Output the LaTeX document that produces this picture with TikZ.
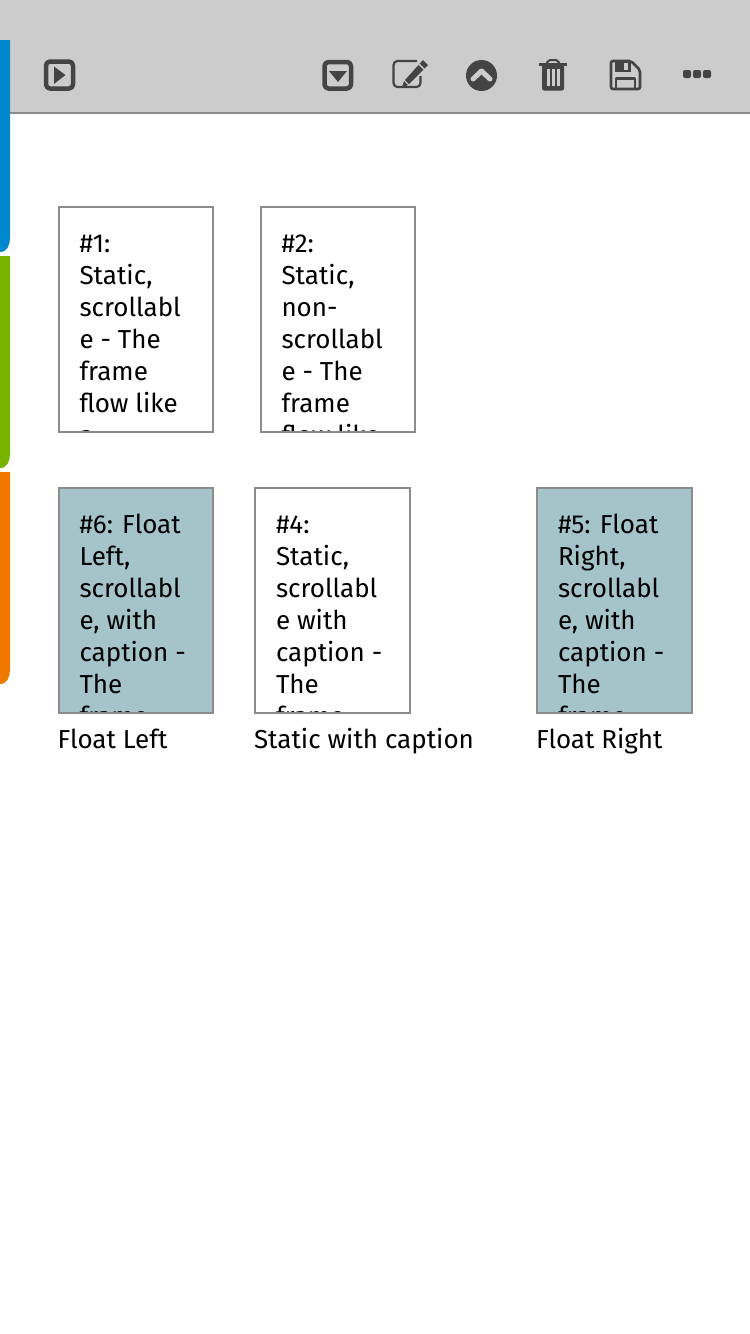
\documentclass[tikz,border=0pt]{standalone}
\usepackage{fontspec}
\setmainfont{Fira Sans}
\definecolor{barbg}{HTML}{CCCCCC}
\definecolor{barline}{HTML}{8C8C8C}
\definecolor{ico}{HTML}{444444}
\definecolor{tealbox}{HTML}{A4C4CA}
\definecolor{blueb}{HTML}{0088CC}
\definecolor{greenb}{HTML}{77B300}
\definecolor{orangeb}{HTML}{F07800}
\tikzset{
  framebox/.style={draw=barline,line width=2pt,outer sep=0pt,inner sep=0pt,anchor=north west},
  tline/.style={anchor=base west,inner sep=0pt,outer sep=0pt,font=\fontsize{26}{32}\selectfont,text=black},
  icoline/.style={draw=ico,line width=3pt,line join=round,fill=none},
}
\newcommand{\fbx}[8]{% name x y w h fill textx lines
  \fill[#6] (#2,#3) rectangle ++(#4,#5);
  \begin{scope}
    \clip (#2,#3) rectangle ++(#4,#5);
    \foreach \t [count=\i] in {#8} {
      \node[tline] (#1-\i) at (#7,{#3+45+(\i-1)*32}) {\t};
    }
  \end{scope}
  \node[framebox,minimum width=#4 pt,minimum height=#5 pt] (#1) at (#2,#3) {};
}
\newcommand{\sidetab}[2]{%
  \fill[#1] (0,#2) -- (10,#2) -- (10,#2+198) .. controls (10,#2+205) and (7,#2+212) .. (0,#2+212) -- cycle;
}
\begin{document}
\begin{tikzpicture}[x=1pt,y=-1pt]
\useasboundingbox (0,0) rectangle (750,1334);
\fill[white] (0,0) rectangle (750,1334);
% toolbar
\fill[barbg] (0,0) rectangle (750,113);
\draw[barline,line width=2pt] (0,113) -- (750,113);
% side tabs
\sidetab{blueb}{40}
\sidetab{greenb}{256}
\sidetab{orangeb}{472}
% play icon
\draw[icoline,line width=4.5pt,rounded corners=4pt] (46,61.5) rectangle (73,88.5);
\fill[ico] (54,66.5) -- (65.5,75) -- (54,84) -- cycle;
% down square
\draw[icoline,line width=4.5pt,rounded corners=4pt] (324.5,62) rectangle (351,88.5);
\fill[ico] (329,71) -- (347,71) -- (338,82) -- cycle;
% edit
\draw[icoline,line width=2.2pt,rounded corners=4pt] (420.5,76) -- (420.5,87) -- (393.5,87) -- (393.5,61) -- (417,61);
\fill[ico] (423,60) -- (428,65) -- (409,84) -- (405,80) -- cycle;
\fill[ico] (404,81) -- (408,85) -- (402,87) -- cycle;
\fill[barbg] (419.5,63.5) -- (424.5,68.5) -- (423.5,69.5) -- (418.5,64.5) -- cycle;
% chevron circle
\fill[ico] (481.5,75.5) circle[radius=15.5];
\draw[barbg,line width=5pt,line cap=round,line join=round] (473,79) -- (481.5,71) -- (490,79);
% trash
\fill[ico] (539,63) -- (567,63) -- (567,65.5) -- (539,65.5) -- cycle;
\draw[ico,line width=2pt,rounded corners=2pt] (547,63) -- (548,60) -- (558,60) -- (559,63);
\fill[ico,rounded corners=2pt] (542,65) rectangle (564,90.5);
\fill[barbg] (547,69) rectangle (549.5,86);
\fill[barbg] (552,69) rectangle (554.5,86);
\fill[barbg] (557,69) rectangle (559.5,86);
% save
\draw[icoline,line width=2.6pt,rounded corners=2pt] (611,61) -- (631,61) -- (640,70) -- (640,89) -- (611,89) -- cycle;
\fill[ico] (615,61) rectangle (631,72);
\fill[barbg] (624,62.5) rectangle (628,70);
\draw[icoline,line width=2.4pt] (616,89) -- (616,78.5) -- (635,78.5) -- (635,89);
% dots
\fill[ico,rounded corners=2pt] (683,70) rectangle (691,78);
\fill[ico,rounded corners=2pt] (693,70) rectangle (701,78);
\fill[ico,rounded corners=2pt] (703,70) rectangle (711,78);
% frames
\fbx{f1}{59}{207}{154}{225}{white}{79.5}{{\#1:},{Static,},{scrollabl},{e - The},{frame},{flow like},{a}}
\fbx{f2}{261}{207}{154}{225}{white}{281.5}{{\#2:},{Static,},{non-},{scrollabl},{e - The},{frame},{flow like}}
\fbx{f6}{59}{488}{154}{225}{tealbox}{79.5}{{\#6: Float},{Left,},{scrollabl},{e, with},{caption -},{The},{frame}}
\fbx{f4}{255}{488}{155}{225}{white}{276}{{\#4:},{Static,},{scrollabl},{e with},{caption -},{The},{frame}}
\fbx{f5}{537}{488}{155}{225}{tealbox}{558}{{\#5: Float},{Right,},{scrollabl},{e, with},{caption -},{The},{frame}}
% captions
\node[tline] (c6) at (57.5,748) {Float Left};
\node[tline] (c4) at (254,748) {Static with caption};
\node[tline] (c5) at (536,748) {Float Right};
\end{tikzpicture}
\end{document}
